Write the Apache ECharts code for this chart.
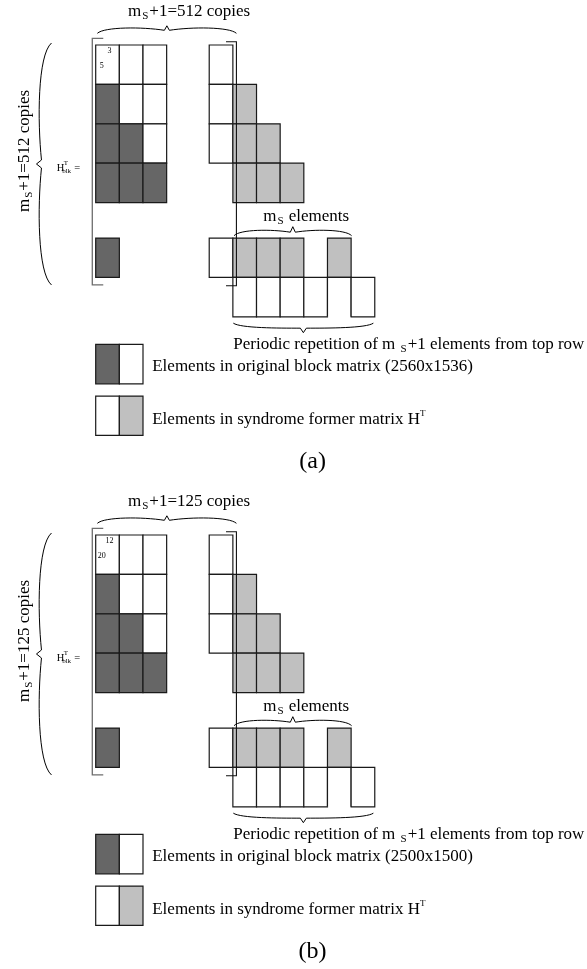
<!DOCTYPE html>
<html>
<head>
<meta charset="utf-8">
<script src="https://cdn.jsdelivr.net/npm/echarts@6/dist/echarts.min.js"></script>
<style>
  html, body { margin: 0; padding: 0; background: #fff; }
  #chart { width: 587px; height: 969px; }
</style>
</head>
<body>
<div id="chart"></div>
<script>
// Per-panel parameters
const panelTags = ['(a)', '(b)'];
const copyCounts = [512, 125];
const cornerNumbers = [['3', '5'], ['12', '20']];
const blockSizes = ['2560x1536', '2500x1500'];

// Original block matrix cells: [column, row, shade]; row 4 is the last block row
const blockCells = [
  [0, 0, 'white'], [1, 0, 'white'], [2, 0, 'white'],
  [0, 1, 'dark'],  [1, 1, 'white'], [2, 1, 'white'],
  [0, 2, 'dark'],  [1, 2, 'dark'],  [2, 2, 'white'],
  [0, 3, 'dark'],  [1, 3, 'dark'],  [2, 3, 'dark'],
  [0, 4, 'dark']
];

// Syndrome former cells: [column, row, shade]
const syndromeCells = [
  [0, 0, 'white'],
  [0, 1, 'white'], [1, 1, 'light'],
  [0, 2, 'white'], [1, 2, 'light'], [2, 2, 'light'],
  [1, 3, 'light'], [2, 3, 'light'], [3, 3, 'light'],
  [0, 4, 'white'], [1, 4, 'light'], [2, 4, 'light'], [3, 4, 'light'], [5, 4, 'light']
];

// Periodic repetition row below the last block row
const repeatColumns = [1, 2, 3, 4, 5, 6];
const openBottomColumns = [5];

// Legend swatches (two cells each)
const legendShades = [['dark', 'white'], ['white', 'light']];

const shadeColor = { dark: '#666666', white: '#ffffff', light: '#c0c0c0' };
const serif = '"Liberation Serif", "Times New Roman", serif';
const TEXT_SIZE = 17;

// Layout in cell units
const CELL_W = 23.65, CELL_H = 39.4;
const GRID_LEFT = 95.7, GRID_TOP = 45, PANEL_STEP = 490;
const X_SPAN = 12, Y_SPAN = 7;
const SYN_OFFSET = 4.8;
const rowY = r => (r < 4 ? r : r + 0.9);
const LEGEND_TOP = 7.6, LEGEND_STEP = 1.31;

function buildCells() {
  const items = [];
  blockCells.forEach(([c, r, s]) => items.push({ x: c, y: rowY(r), shade: s }));
  syndromeCells.forEach(([c, r, s]) => items.push({ x: SYN_OFFSET + c, y: rowY(r), shade: s }));
  repeatColumns.forEach(c => items.push({
    x: SYN_OFFSET + c, y: rowY(5), shade: 'white', open: openBottomColumns.includes(c)
  }));
  legendShades.forEach((pair, i) => pair.forEach((s, j) =>
    items.push({ x: j, y: LEGEND_TOP + i * LEGEND_STEP, shade: s })));
  return items;
}
const cellItems = buildCells();

function cellRender(params, api) {
  const c = cellItems[params.dataIndex];
  const p0 = api.coord([api.value(0), api.value(1)]);
  const p1 = api.coord([api.value(0) + 1, api.value(1) + 1]);
  const stroke = '#1a1a1a';
  const children = [{
    type: 'rect',
    shape: { x: p0[0], y: p0[1], width: p1[0] - p0[0], height: p1[1] - p0[1] },
    style: { fill: shadeColor[c.shade], stroke: c.open ? 'none' : stroke, lineWidth: 1.2 }
  }];
  if (c.open) {
    children.push({
      type: 'polyline',
      shape: { points: [[p0[0], p1[1]], [p0[0], p0[1]], [p1[0], p0[1]], [p1[0], p1[1]]] },
      style: { stroke: stroke, lineWidth: 1.2, fill: 'none' }
    });
  }
  return { type: 'group', children };
}

// Curly brace between pixel points a and b; the tip points to the left of a->b
function brace(a, b, h, d1, d, k) {
  const dx = b[0] - a[0], dy = b[1] - a[1];
  const L = Math.hypot(dx, dy), ux = dx / L, uy = dy / L;
  const nx = uy, ny = -ux;
  const P = (u, v) => (a[0] + ux * u + nx * v).toFixed(2) + ' ' + (a[1] + uy * u + ny * v).toFixed(2);
  const m = L / 2;
  const path = 'M' + P(0, 0) +
    ' C' + P(L * 0.05, h) + ' ' + P(m * 0.65, h) + ' ' + P(m - k, d1) +
    ' L' + P(m, d) + ' L' + P(m + k, d1) +
    ' C' + P(L - m * 0.65, h) + ' ' + P(L - L * 0.05, h) + ' ' + P(L, 0);
  return { type: 'path', shape: { pathData: path }, style: { fill: 'none', stroke: '#000', lineWidth: 1 } };
}

function decorRender(i) {
  return function (params, api) {
    const P = (x, y) => api.coord([x, y]);
    const children = [];
    const line = (pts, color, w) => children.push({
      type: 'polyline', shape: { points: pts.map(p => P(p[0], p[1])) },
      style: { stroke: color, lineWidth: w, fill: 'none' }
    });
    const text = (x, y, str, style, rotation, dx, dy) => {
      const p = P(x, y);
      children.push({
        type: 'text', x: p[0] + (dx || 0), y: p[1] + (dy || 0), rotation: rotation || 0,
        style: Object.assign({
          text: str, fontFamily: serif, fontSize: TEXT_SIZE, fill: '#000',
          align: 'left', verticalAlign: 'middle'
        }, style)
      });
    };
    const subRich = {
      n: { fontFamily: serif, fontSize: TEXT_SIZE },
      s: { fontFamily: serif, fontSize: 11, padding: [9, 1, 0, 1] },
      t: { fontFamily: serif, fontSize: 9, padding: [0, 0, 11, 0] }
    };

    // Matrix brackets
    line([[0.32, -0.17], [-0.144, -0.17], [-0.144, 6.09], [0.32, 6.09]], '#6e6e6e', 1.3);
    line([[5.51, -0.084], [5.95, -0.084], [5.95, 6.11], [5.51, 6.11]], '#111', 1.1);

    // Braces
    children.push(brace(P(0.07, -0.297), P(5.95, -0.297), 6.5, 3, 7.5, 2.5));
    children.push(brace(P(-1.87, 6.09), P(-1.87, -0.05), 14, 10, 15, 4));
    children.push(brace(P(5.85, 4.84), P(10.82, 4.84), 6.5, 3.5, 9, 2.5));
    children.push(brace(P(11.74, 7.06), P(5.82, 7.06), 5, 5, 9.5, 3));

    // Copy-count labels
    const copies = '{n|m}{s|S}{n|+1=' + copyCounts[i] + ' copies}';
    text(3.95, -0.85, copies, { align: 'center', rich: subRich });
    text(-2.99, 2.69, copies, { align: 'center', rich: subRich }, Math.PI / 2);

    // H_blk^T =
    text(-1.65, 3.12, 'H', { fontSize: 10.5 });
    text(-1.65, 3.12, 'T', { fontSize: 7 }, 0, 7, -5);
    text(-1.65, 3.12, 'blk', { fontSize: 7 }, 0, 5.5, 3.5);
    text(-1.65, 3.12, '=', { fontSize: 10.5 }, 0, 17.5, 0);

    // Corner index labels
    text(0.58, 0.16, cornerNumbers[i][0], { fontSize: 8, align: 'center' });
    text(0.26, 0.54, cornerNumbers[i][1], { fontSize: 8, align: 'center' });

    // m_S elements / periodic repetition
    text(8.9, 4.36, '{n|m}{s|S}{n| elements}', { align: 'center', rich: subRich });
    text(5.82, 7.61, '{n|Periodic repetition of m }{s|S}{n|+1 elements from top row}', { rich: subRich });

    // Legend captions
    text(2.39, 8.16, 'Elements in original block matrix (' + blockSizes[i] + ')', {});
    text(2.39, 9.5, '{n|Elements in syndrome former matrix H}{t|T}', { rich: subRich });

    // Panel tag
    text(9.17, 10.58, panelTags[i], { fontSize: 24, align: 'center' });

    return { type: 'group', children };
  };
}

const grids = [], xAxes = [], yAxes = [], series = [];
panelTags.forEach((tag, i) => {
  grids.push({
    left: GRID_LEFT, top: GRID_TOP + i * PANEL_STEP,
    width: X_SPAN * CELL_W, height: Y_SPAN * CELL_H, show: false
  });
  xAxes.push({ gridIndex: i, type: 'value', min: 0, max: X_SPAN, show: false });
  yAxes.push({ gridIndex: i, type: 'value', min: 0, max: Y_SPAN, inverse: true, show: false });
  series.push({
    type: 'custom', name: 'cells' + i, coordinateSystem: 'cartesian2d',
    xAxisIndex: i, yAxisIndex: i, clip: false, silent: true,
    data: cellItems.map(c => [c.x, c.y]),
    renderItem: cellRender, z: 2
  });
  series.push({
    type: 'custom', name: 'annotations' + i, coordinateSystem: 'cartesian2d',
    xAxisIndex: i, yAxisIndex: i, clip: false, silent: true,
    data: [[0, 0]],
    renderItem: decorRender(i), z: 3
  });
});

const chart = echarts.init(document.getElementById('chart'));
chart.setOption({
  animation: false,
  backgroundColor: '#ffffff',
  grid: grids, xAxis: xAxes, yAxis: yAxes, series
});
</script>
</body>
</html>
